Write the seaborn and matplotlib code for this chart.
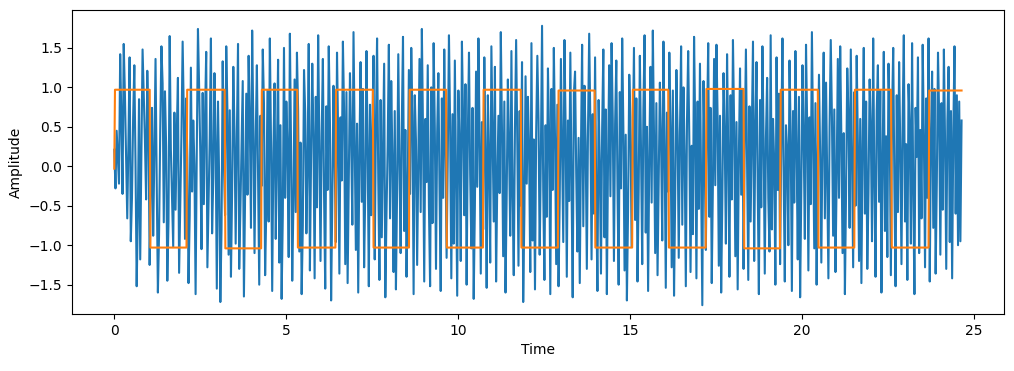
import numpy as np
import pandas as pd
import matplotlib
matplotlib.use("Agg")
import matplotlib.pyplot as plt
import seaborn as sns

# Time span of the recording
T_START = 0.0
T_END = 24.64

signal = [
    0.21, -0.28, 0.45, 0.10, -0.22, 1.42, 0.60, -0.35, 1.55, 0.92, 0.12, -0.66, 0.30, 1.38, -0.95, -0.40, 0.62, 1.28, 0.05, -1.52, -0.60, 0.85, -1.18, 0.20, 1.48, 0.90, 0.33, -0.42, 1.21, 0.48,
    -1.25, -0.30, 0.74, -0.88, 0.15, 1.36, -0.20, -1.60, -0.85, 0.48, 1.52, 1.05, -0.71, 0.95, 0.25, -1.45, -0.70, 1.65, 0.22, -0.38, -1.02, 0.68, -0.55, 0.40, 1.12, -1.35, -0.50, 0.41, 1.58, 0.66,
    -0.92, 0.86, 0.10, -1.48, -0.62, 1.25, -0.32, 0.58, 0.02, -1.62, 0.20, 1.74, 1.00, 0.15, -1.05, 0.93, -0.48, 0.64, 1.45, -1.28, -0.45, 0.37, 1.62, -0.85, -0.15, 1.18, 0.30, -1.55, 0.82, -0.20,
    -1.72, -0.80, 1.33, 0.05, -0.62, 1.52, 0.72, -1.12, 0.71, -1.40, -0.30, 1.26, 0.44, -0.98, 0.35, 1.55, -1.30, -0.55, 0.28, 1.08, -1.65, -0.40, 0.92, -0.36, 1.40, 0.60, -0.78, 1.72, 0.50, -1.10,
    0.35, 1.28, -0.10, -1.50, 0.64, -0.25, 1.48, 0.80, -1.38, -0.52, 0.96, -0.70, 1.62, 0.30, -1.58, 0.18, 1.05, -0.92, 0.12, 1.35, -1.22, 0.52, -1.68, -0.62, 1.50, -0.40, 0.82, 0.20, -1.15, 1.68,
    0.25, -1.45, -0.48, 1.10, -0.58, 1.44, 0.70, -1.08, 0.30, -1.62, -0.75, 1.22, 0.68, -0.85, 0.05, 1.55, -1.32, 0.12, 1.30, 0.40, -1.42, 0.88, -0.52, 1.66, 0.32, -1.20, 0.40, 1.36, -0.35, -1.55,
    0.76, -0.30, 1.52, 0.55, -1.70, -0.44, 1.02, 0.08, -0.96, 1.44, 0.36, -1.36, 0.62, -0.18, 1.58, 0.70, -1.24, 0.94, -1.48, -0.20, 1.18, 0.36, -0.74, 1.70, 0.28, -1.06, 0.54, -1.60, 0.15, 1.32,
    -0.45, 0.98, -1.28, -0.30, 1.46, 0.20, -1.52, 0.78, -0.62, 0.45, 1.40, -1.18, 0.50, 1.62, -0.15, -1.44, 0.84, -0.90, 0.22, 1.30, -1.66, -0.60, 0.26, 1.54, -0.66, 1.08, 0.10, -1.34, 0.70, -1.56,
    -0.30, 1.42, 0.02, -1.10, 0.55, 1.64, -0.82, 0.46, -1.40, -0.25, 1.22, -0.35, 1.50, 0.64, -1.62, 0.90, 0.32, -1.25, 0.10, 1.36, -0.58, 1.74, 0.42, -1.46, 0.60, -0.20, 1.28, -0.50, -1.52, 1.00,
    -0.72, 1.56, 0.48, -1.30, 0.42, 1.18, -0.30, -1.58, 0.86, -0.40, 1.48, 0.25, -1.16, 0.14, 1.66, 0.50, -1.42, 0.66, -0.98, 1.34, -0.20, -1.64, 0.96, 0.28, -1.20, 1.58, 0.60, -0.62, 1.04, -1.50,
    0.38, 1.44, -0.10, -1.04, 0.74, -1.68, -0.52, 1.20, -0.26, 1.62, 0.35, -1.36, 0.56, -0.80, 1.38, 0.15, -1.54, 0.90, 0.10, -1.22, 1.52, 0.40, -0.70, 1.26, -1.46, -0.20, 0.64, -0.34, 1.70, 0.45,
    -1.14, 0.82, -1.60, -0.35, 1.10, 0.24, -0.88, 1.46, -0.40, -1.38, 0.48, 1.60, 0.30, -1.26, 0.70, -0.50, 1.32, -1.72, -0.60, 1.14, -0.22, 0.88, 0.20, -1.34, 1.56, -0.94, 0.34, -1.56, 0.42, 1.40,
    0.60, -1.12, 0.15, 1.78, -0.30, -1.44, 0.52, -0.64, 1.24, 0.40, -1.62, 0.98, -0.30, 1.50, 0.35, -1.24, 0.78, -1.52, -0.40, 1.36, 0.16, -0.96, 1.60, 0.50, -1.40, 0.58, -0.44, 1.44, -0.20, -1.66,
    0.92, 1.20, -0.10, -1.08, 0.36, -1.48, 0.20, 1.54, -0.76, 1.02, 0.30, -1.30, 0.46, 1.68, 0.55, -1.18, 0.66, -0.60, 1.38, -0.42, -1.58, 0.84, 0.06, -1.36, 0.48, 1.48, -0.90, 0.72, -1.62, 0.10,
    1.28, -0.38, 1.56, 0.60, -1.20, 0.54, 1.34, -0.25, -1.50, 0.94, -0.28, 1.62, 0.48, -1.32, 0.40, -1.70, -0.55, 1.16, 0.62, -1.02, 0.30, 1.50, -0.68, 0.86, -1.46, -0.30, 1.40, 0.18, -1.24, 0.72,
    1.66, -0.84, 0.50, -1.58, 0.12, 1.26, -0.46, 1.72, 0.40, -1.10, 0.80, -1.38, -0.20, 1.06, 0.30, -0.94, 1.58, 0.25, -1.54, 0.68, -0.32, 1.44, 0.50, -1.28, 0.96, -1.64, -0.35, 1.22, 0.44, -1.16,
    0.40, 1.52, -0.74, 1.00, 0.15, -1.52, 0.58, 1.46, 0.30, -1.34, 0.26, -0.86, 1.64, 0.45, -1.42, 0.82, -0.54, 1.30, -0.30, -1.76, 1.08, 0.12, -1.06, 0.50, 1.56, -0.64, 0.74, -1.48, -0.20, 1.36,
    -0.24, 1.54, 0.60, -1.26, 0.64, -1.60, -0.40, 1.18, 0.38, -0.98, 1.42, 0.20, -1.40, 0.90, -0.42, 1.60, 0.52, -1.14, 0.56, -1.56, 0.10, 1.24, -0.36, 0.98, -1.30, 0.30, 1.48, 0.08, -1.44, 0.76,
    -0.70, 0.40, 1.58, -1.20, 0.46, 1.32, -0.25, -1.62, 0.84, -0.52, 1.52, 0.35, -1.36, 0.36, 1.12, -0.40, -1.08, 1.66, -0.80, 0.60, 0.05, -1.50, 1.38, -0.30, 0.92, -1.24, 0.30, 1.62, -0.10, -1.46,
    0.52, 0.20, -1.00, 1.34, 0.40, -1.58, 0.70, -0.46, 1.46, 0.20, -1.18, 0.88, -1.66, -0.30, 1.28, 0.34, -0.92, 1.54, 0.50, -1.32, 0.62, -0.48, 1.70, 0.30, -1.04, 0.80, -1.50, 0.10, 1.16, 0.14,
    -1.22, 0.40, 1.44, -0.66, 1.06, -0.20, -1.42, 0.50, 1.60, 0.62, -0.88, 0.72, -1.34, -0.15, 1.36, -0.40, 1.52, 0.35, -1.10, 0.42, -1.62, -0.30, 1.24, 0.66, -0.78, 1.48, 0.10, -1.28, 0.94, -0.50,
    1.40, 0.30, -1.20, 0.60, -1.48, 0.25, 1.50, -0.60, 0.82, -1.30, -0.35, 1.10, 0.45, -0.95, 1.62, -0.20, -1.40, 0.70, 1.28, -0.45, 0.96, -1.60, 0.05, 1.45, -0.82, 0.38, -1.15, 1.30, 0.55, -1.38,
    0.66, 1.50, -0.28, -1.52, 0.90, -0.58, 1.32, 0.22, -1.24, 0.58, 1.66, -0.70, 0.28, -1.44, 1.04, 0.50, -0.98, 1.56, -0.32, -1.62, 0.74, 0.12, 1.38, -1.10, 0.46, -0.66, 1.54, 0.40, -1.28, 0.86,
    -0.40, 1.62, -1.46, 0.35, 1.20, -0.78, 0.98, -1.36, -0.20, 1.44, 0.62, -1.12, 0.80, -0.55, 1.48, 0.30, -1.30, 0.58, 1.26, -0.96, 0.70, -1.42, 0.44, 1.52, -0.60, 0.90, -1.00, 0.82, -0.95, 0.58,
]

# Recovered square wave: switching times and the level held in between
square_edges = [0.0, 1.03, 2.10, 3.21, 4.27, 5.32, 6.43, 7.52, 8.57, 9.65, 10.72, 11.82,
                12.90, 13.97, 15.06, 16.11, 17.20, 18.30, 19.36, 20.46, 21.52, 22.59, 23.68, 24.64]
square_levels = [0.97, -1.03, 0.97, -1.04, 0.97, -1.03, 0.97, -1.03, 0.97, -1.03, 0.97, -1.03,
                 0.96, -1.03, 0.97, -1.03, 0.98, -1.04, 0.97, -1.03, 0.97, -1.03, 0.96]
square_start = -0.03

# Build tables for seaborn
time = np.linspace(T_START, T_END, len(signal))
df_signal = pd.DataFrame({"Time": time, "Amplitude": signal})

sq_t = [square_edges[0]]
sq_v = [square_start]
for i, level in enumerate(square_levels):
    sq_t += [square_edges[i] + 0.02, square_edges[i + 1]]
    sq_v += [level, level]
df_square = pd.DataFrame({"Time": sq_t, "Amplitude": sq_v})

fig, ax = plt.subplots(figsize=(10.14, 3.71), dpi=100)
fig.subplots_adjust(left=0.071, right=0.990, top=0.973, bottom=0.154)

sns.lineplot(data=df_signal, x="Time", y="Amplitude", ax=ax, color="#1f77b4",
             linewidth=1.5, estimator=None, sort=False)
sns.lineplot(data=df_square, x="Time", y="Amplitude", ax=ax, color="#ff7f0e",
             linewidth=1.5, estimator=None, sort=False)

ax.set_xlim(-1.23, 25.87)
ax.set_ylim(-1.87, 1.98)
ax.set_yticks([-1.5, -1.0, -0.5, 0.0, 0.5, 1.0, 1.5])
ax.set_xlabel("Time")
ax.set_ylabel("Amplitude")

plt.savefig("out.png", dpi=100)
plt.close()
